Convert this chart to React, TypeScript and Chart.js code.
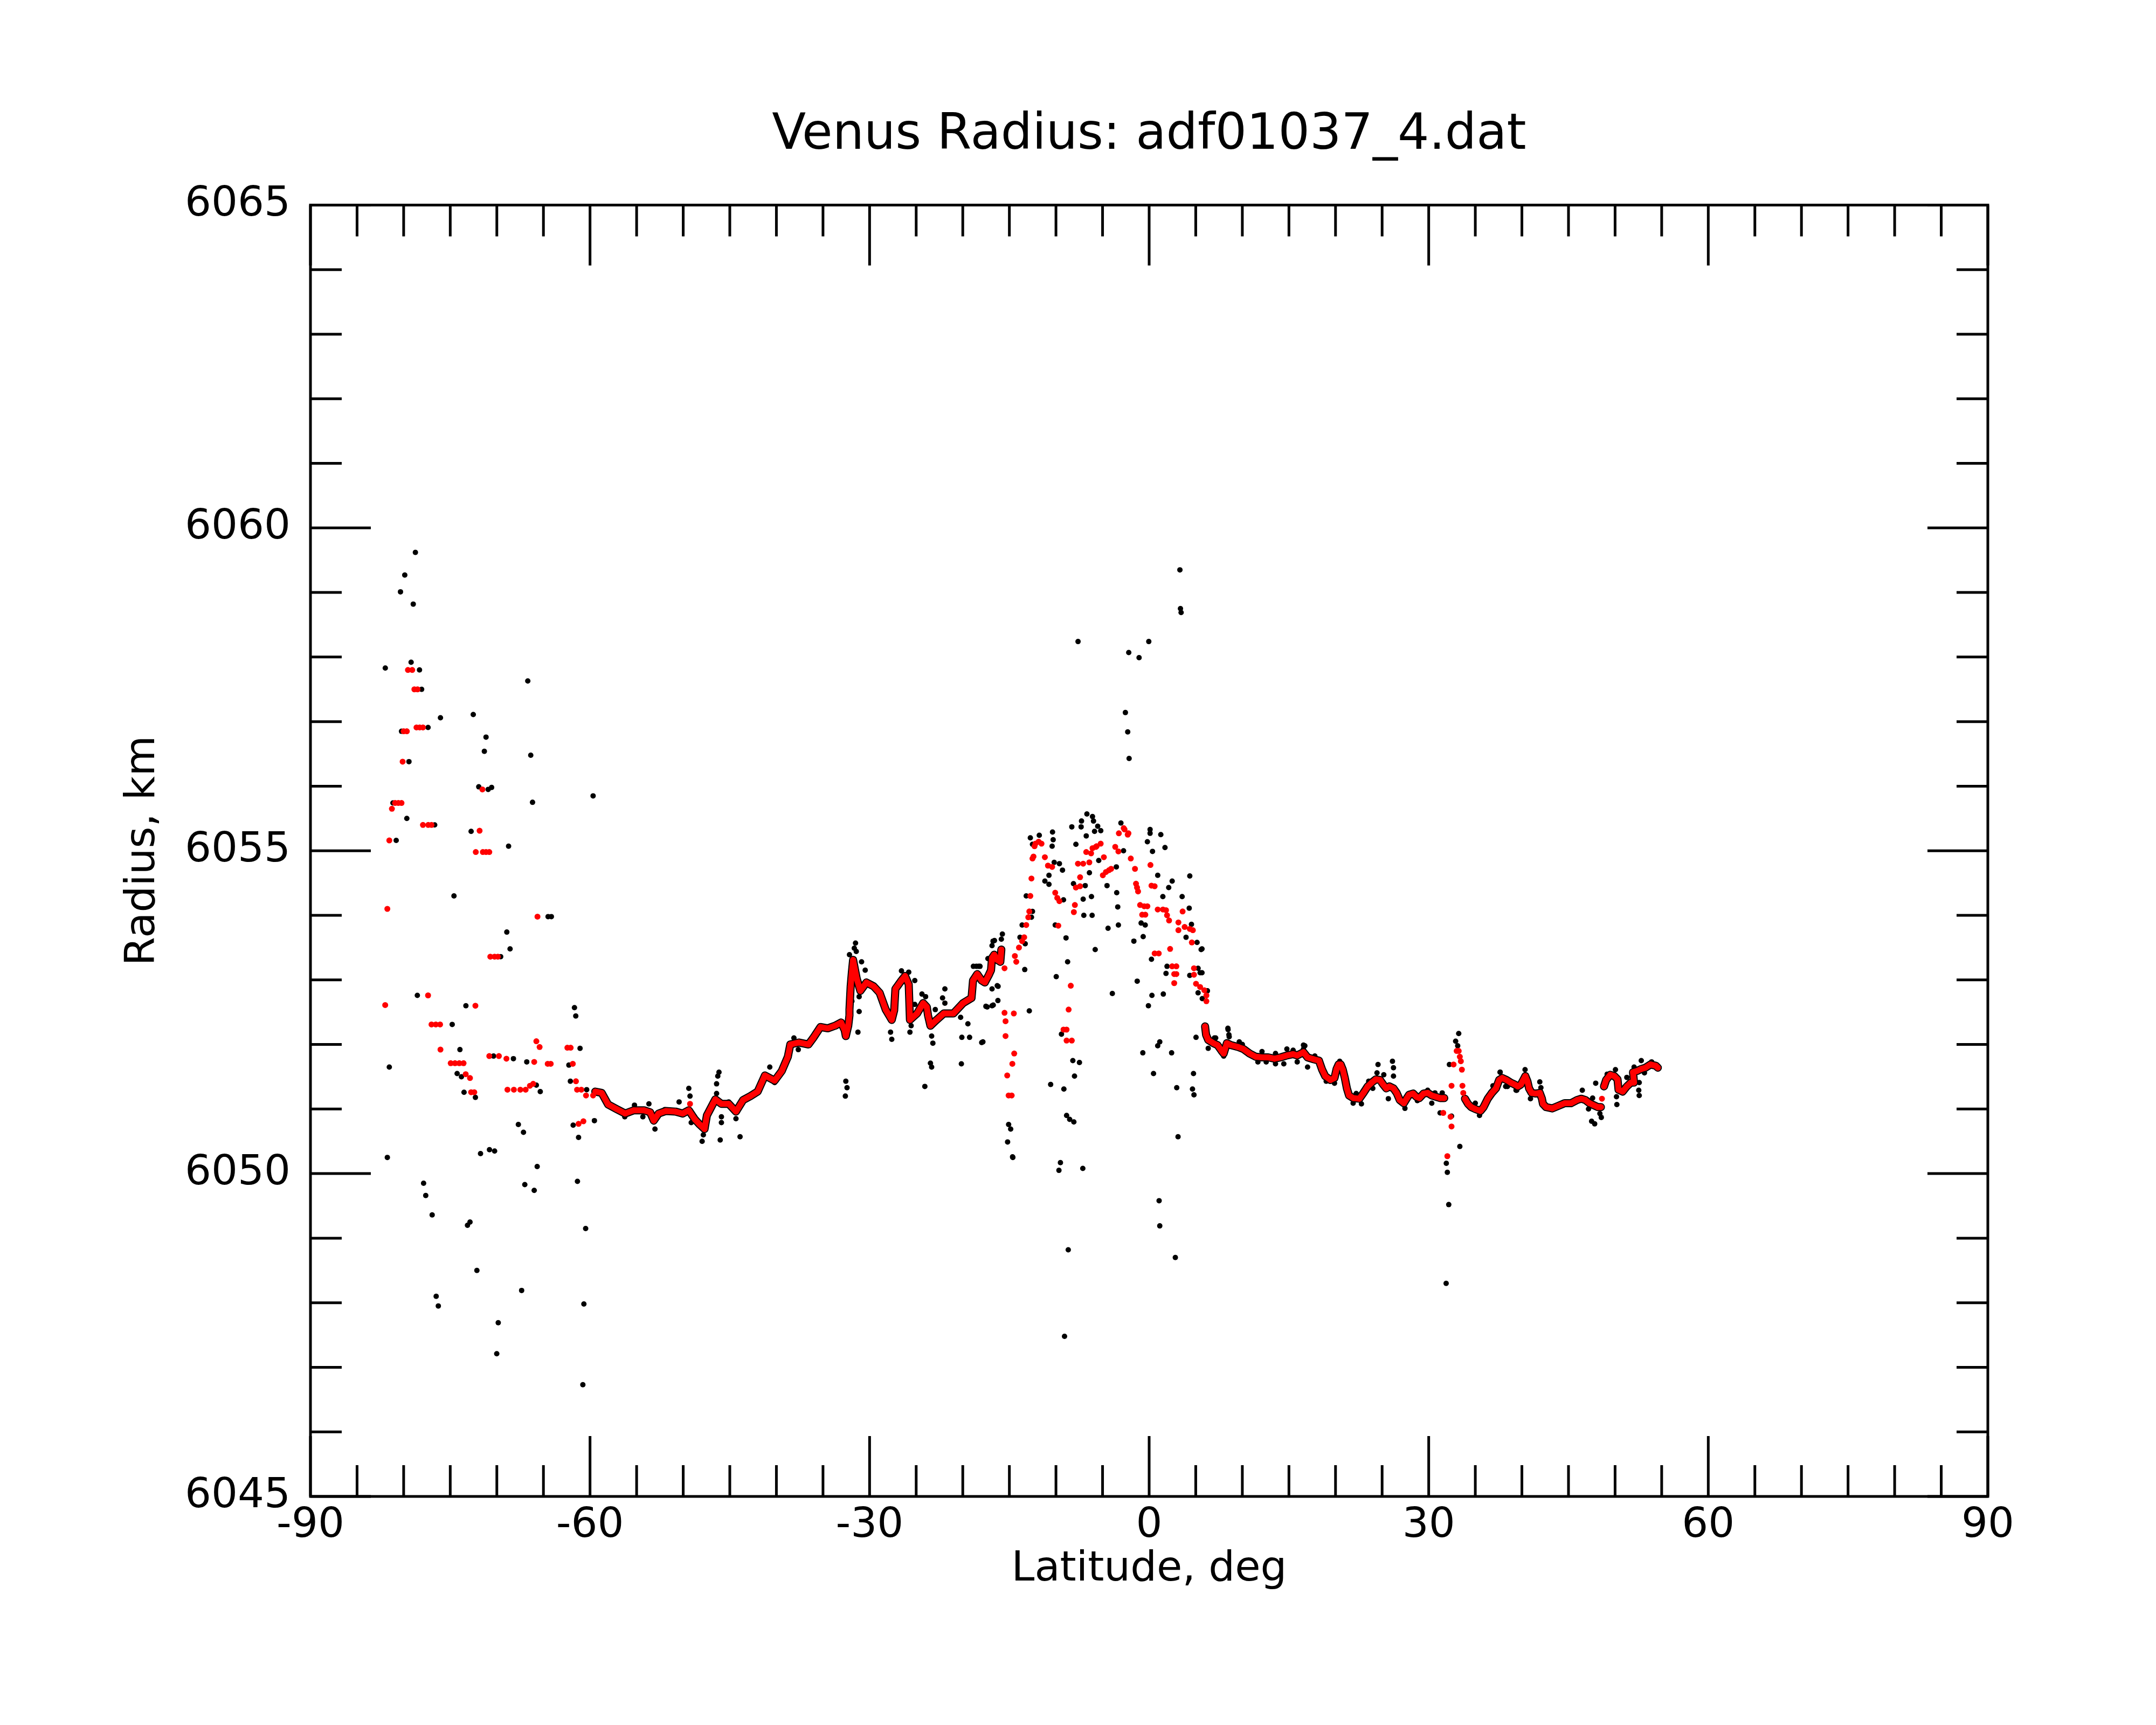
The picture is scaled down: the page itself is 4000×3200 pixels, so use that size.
import { useEffect, useRef } from "react";
import { Chart, registerables } from "chart.js";

Chart.register(...registerables);

type P = [number, number];

const TITLE = "Venus Radius: adf01037_4.dat";
const X_TITLE = "Latitude, deg";
const Y_TITLE = "Radius, km";

const X_TICKS = [-90, -85, -80, -75, -70, -65, -60, -55, -50, -45, -40, -35, -30, -25, -20, -15, -10, -5, 0, 5, 10, 15, 20, 25, 30, 35, 40, 45, 50, 55, 60, 65, 70, 75, 80, 85, 90];
const Y_TICKS = [6045, 6046, 6047, 6048, 6049, 6050, 6051, 6052, 6053, 6054, 6055, 6056, 6057, 6058, 6059, 6060, 6061, 6062, 6063, 6064, 6065];

// smoothed radius (red), continuous stretches
const redCurveA: P[] = [
  [-59.44, 6051.27], [-58.75, 6051.25], [-58.06, 6051.07], [-57.15, 6051.0], [-56.23, 6050.93], [-55.31, 6050.98],
  [-54.2, 6050.98], [-53.55, 6050.95], [-53.16, 6050.82], [-52.64, 6050.93], [-51.86, 6050.97], [-50.83, 6050.96],
  [-50.05, 6050.93], [-49.4, 6050.98], [-48.75, 6050.84], [-48.23, 6050.76], [-47.71, 6050.69], [-47.46, 6050.9],
  [-46.81, 6051.08], [-46.55, 6051.15], [-45.9, 6051.08], [-45.12, 6051.08], [-44.34, 6050.96], [-43.57, 6051.14],
  [-42.79, 6051.2], [-42.01, 6051.27], [-41.23, 6051.52], [-40.19, 6051.44], [-39.42, 6051.59], [-38.77, 6051.81],
  [-38.51, 6052.0], [-37.6, 6052.03], [-36.56, 6052.0], [-36.05, 6052.1], [-35.27, 6052.27], [-34.49, 6052.25],
  [-33.71, 6052.29], [-33.06, 6052.34], [-32.67, 6052.22], [-32.55, 6052.13], [-32.29, 6052.29], [-32.16, 6052.45],
  [-32.16, 6052.54], [-32.03, 6052.9], [-31.9, 6053.12], [-31.77, 6053.31], [-31.38, 6053.02], [-30.99, 6052.83],
  [-30.34, 6052.96], [-29.56, 6052.9], [-28.92, 6052.8], [-28.27, 6052.54], [-27.62, 6052.38], [-27.36, 6052.53],
  [-27.23, 6052.86], [-26.58, 6052.99], [-26.19, 6053.06], [-25.8, 6052.93], [-25.67, 6052.38], [-24.9, 6052.48],
  [-24.25, 6052.64], [-23.86, 6052.58], [-23.73, 6052.45], [-23.47, 6052.29], [-22.82, 6052.38], [-22.04, 6052.48],
  [-21.01, 6052.48], [-19.97, 6052.64], [-19.06, 6052.72], [-18.9, 6052.99], [-18.45, 6053.09], [-17.97, 6052.99],
  [-17.63, 6052.96], [-17.19, 6053.08], [-16.97, 6053.15], [-16.86, 6053.34], [-16.63, 6053.39], [-16.3, 6053.31],
  [-15.97, 6053.28], [-15.86, 6053.47],
];

const redCurveB: P[] = [
  [6.0, 6052.28], [6.11, 6052.15], [6.34, 6052.07], [6.89, 6052.02], [7.34, 6051.99], [7.78, 6051.9], [8.0, 6051.86],
  [8.34, 6052.02], [8.78, 6051.99], [9.56, 6051.96], [10.11, 6051.93], [10.78, 6051.86], [11.45, 6051.81],
  [12.11, 6051.8], [12.78, 6051.8], [13.45, 6051.78], [14.11, 6051.8], [14.78, 6051.83], [15.45, 6051.85],
  [15.89, 6051.83], [16.56, 6051.88], [17.0, 6051.8], [17.67, 6051.77], [18.22, 6051.75], [18.56, 6051.61],
  [18.89, 6051.51], [19.45, 6051.45], [19.89, 6051.48], [20.11, 6051.62], [20.33, 6051.69], [20.56, 6051.69],
  [20.78, 6051.61], [21.0, 6051.48], [21.22, 6051.32], [21.45, 6051.21], [21.89, 6051.17], [22.56, 6051.16],
  [23.0, 6051.25], [23.45, 6051.35], [23.89, 6051.41], [24.33, 6051.46], [24.78, 6051.45], [25.11, 6051.38],
  [25.45, 6051.32], [25.78, 6051.35], [26.22, 6051.32], [26.56, 6051.25], [26.89, 6051.14], [27.33, 6051.09],
  [27.67, 6051.17], [27.89, 6051.22], [28.33, 6051.24], [28.67, 6051.19], [29.0, 6051.17], [29.45, 6051.24],
  [29.89, 6051.25], [30.33, 6051.21], [30.78, 6051.19], [31.22, 6051.17], [31.67, 6051.17],
];

const redCurveC: P[] = [
  [33.89, 6051.16], [34.22, 6051.08], [34.56, 6051.03], [35.0, 6051.0], [35.56, 6050.97], [35.89, 6051.03],
  [36.34, 6051.16], [36.78, 6051.25], [37.22, 6051.32], [37.56, 6051.45], [37.89, 6051.48], [38.34, 6051.45],
  [38.78, 6051.41], [39.22, 6051.38], [39.56, 6051.35], [39.89, 6051.38], [40.15, 6051.45], [40.37, 6051.51],
  [40.59, 6051.43], [40.77, 6051.32], [41.04, 6051.25], [41.48, 6051.24], [41.92, 6051.25], [42.15, 6051.16],
  [42.26, 6051.08], [42.59, 6051.03], [43.26, 6051.01], [43.92, 6051.05], [44.59, 6051.09], [45.26, 6051.09],
  [45.92, 6051.14], [46.37, 6051.16], [46.81, 6051.14], [47.26, 6051.09], [47.7, 6051.06], [48.15, 6051.03],
  [48.48, 6051.03],
];

const redCurveD: P[] = [
  [48.81, 6051.35], [49.04, 6051.45], [49.48, 6051.53], [49.92, 6051.51], [50.26, 6051.46], [50.37, 6051.3],
  [50.81, 6051.27], [51.26, 6051.35], [51.7, 6051.41], [52.04, 6051.41], [51.92, 6051.57], [52.37, 6051.59],
  [52.81, 6051.62], [53.26, 6051.64], [53.81, 6051.69], [54.37, 6051.67], [54.59, 6051.64],
];

// smoothed radius (red), isolated points
const redSouth: P[] = [
  [-79.54, 6057.8], [-79.08, 6057.8], [-78.85, 6057.5], [-78.51, 6057.5], [-78.62, 6056.91], [-78.28, 6056.91],
  [-77.93, 6056.91], [-80.0, 6056.85], [-79.66, 6056.85], [-80.11, 6056.38], [-80.92, 6055.74], [-80.57, 6055.74],
  [-80.23, 6055.74], [-81.26, 6055.65], [-81.54, 6055.16], [-77.93, 6055.4], [-77.36, 6055.4], [-77.01, 6055.4],
  [-71.55, 6055.95], [-71.85, 6055.31], [-72.26, 6054.98], [-71.5, 6054.98], [-71.16, 6054.98], [-70.81, 6054.98],
  [-81.75, 6054.1], [-65.64, 6053.98], [-70.7, 6053.36], [-70.24, 6053.36], [-69.89, 6053.36], [-81.98, 6052.61],
  [-77.38, 6052.76], [-72.3, 6052.6], [-77.01, 6052.31], [-76.55, 6052.31], [-76.09, 6052.31], [-76.05, 6051.92],
  [-74.95, 6051.71], [-74.49, 6051.71], [-74.03, 6051.71], [-73.57, 6051.71], [-73.34, 6051.54], [-72.88, 6051.48],
  [-72.76, 6051.26], [-72.42, 6051.26], [-70.81, 6051.82], [-69.78, 6051.82], [-68.97, 6051.78], [-68.86, 6051.3],
  [-68.17, 6051.3], [-67.48, 6051.3], [-66.91, 6051.3], [-66.45, 6051.36], [-66.1, 6051.39], [-65.99, 6051.73],
  [-65.76, 6052.05], [-65.41, 6051.96], [-64.54, 6051.7], [-64.22, 6051.7], [-62.43, 6051.95], [-62.08, 6051.95],
  [-61.85, 6051.7], [-61.51, 6051.43], [-61.39, 6051.3], [-60.93, 6051.3], [-60.43, 6051.21], [-61.23, 6050.77],
  [-60.71, 6050.81], [-59.67, 6051.21], [-49.27, 6051.08],
];

const redEquator: P[] = [
  [-15.52, 6053.18], [-15.52, 6052.49], [-14.52, 6052.48], [-15.41, 6052.36], [-15.41, 6052.13], [-14.48, 6051.86],
  [-14.68, 6051.7], [-15.23, 6051.52], [-15.08, 6051.21], [-14.75, 6051.21], [-14.41, 6053.37], [-14.26, 6053.28],
  [-13.97, 6053.5], [-13.63, 6053.6], [-13.41, 6053.66], [-13.19, 6053.85], [-12.97, 6053.97], [-12.86, 6054.06],
  [-12.75, 6054.3], [-12.63, 6054.57], [-12.52, 6054.88], [-12.41, 6054.91], [-12.3, 6055.07], [-12.2, 6055.11],
  [-11.86, 6055.14], [-11.55, 6055.11], [-11.19, 6054.9], [-10.86, 6054.77], [-10.41, 6054.75], [-10.08, 6054.35],
  [-9.86, 6054.27], [-9.63, 6054.22], [-9.75, 6053.84], [-8.41, 6052.91], [-8.64, 6052.54], [-9.19, 6052.23],
  [-8.86, 6052.23], [-8.86, 6052.06], [-8.3, 6052.06], [-8.08, 6054.05], [-7.97, 6054.16], [-7.86, 6054.43],
  [-7.41, 6054.45], [-7.41, 6054.59], [-7.64, 6054.8], [-7.08, 6054.8], [-6.42, 6054.82], [-6.75, 6054.98],
  [-6.23, 6054.96], [-6.08, 6055.04], [-5.72, 6055.06], [-5.64, 6055.07], [-5.2, 6055.11], [-4.86, 6054.9],
  [-4.97, 6054.62], [-4.64, 6054.67], [-4.3, 6054.7], [-4.08, 6054.72], [-3.64, 6055.06], [-3.3, 6054.99],
  [-3.25, 6055.27], [-2.73, 6055.35], [-2.22, 6055.27], [-2.64, 6055.33], [-2.3, 6055.25], [-1.97, 6054.88],
  [-1.52, 6054.72], [-1.41, 6054.49], [-1.3, 6054.43], [-1.19, 6054.37], [-0.97, 6054.16], [-0.53, 6054.14],
  [-0.19, 6054.14], [-0.75, 6054.01], [-0.41, 6054.01], [0.14, 6054.78], [0.25, 6054.46], [0.59, 6054.45],
  [0.92, 6054.09], [1.48, 6054.09], [1.81, 6054.08], [1.92, 6054.0], [2.14, 6053.92], [3.59, 6054.06],
  [3.14, 6053.89], [3.81, 6053.82], [4.36, 6053.79], [4.69, 6053.77], [3.14, 6053.77], [4.58, 6053.58],
  [2.25, 6053.48], [0.59, 6053.41], [1.03, 6053.41], [2.47, 6053.21], [2.92, 6053.21], [2.69, 6053.09],
  [2.92, 6053.09], [2.69, 6052.95], [4.81, 6053.18], [4.81, 6053.08], [5.03, 6052.94], [5.47, 6052.89],
  [5.92, 6052.84], [6.14, 6052.76], [6.14, 6052.67],
];

const redNorth: P[] = [
  [31.56, 6050.94], [32.34, 6050.88], [32.45, 6050.73], [32.0, 6050.27], [32.45, 6051.36], [32.67, 6051.69],
  [33.0, 6051.9], [33.22, 6051.9], [33.34, 6051.81], [33.45, 6051.74], [33.56, 6051.61], [33.62, 6051.36],
  [33.71, 6051.25], [48.59, 6051.16],
];

// raw radius (black) points
const blackSouth: P[] = [
  [-78.74, 6059.62], [-79.88, 6059.27], [-80.34, 6059.01], [-78.97, 6058.82], [-81.97, 6057.83], [-79.2, 6057.92],
  [-78.3, 6057.8], [-78.07, 6057.5], [-77.38, 6056.91], [-80.23, 6056.85], [-79.43, 6056.38], [-79.66, 6055.5],
  [-80.8, 6055.16], [-81.15, 6055.74], [-76.67, 6055.4], [-76.05, 6057.06], [-72.53, 6057.11], [-71.16, 6056.76],
  [-71.34, 6056.54], [-71.94, 6055.99], [-70.93, 6055.95], [-70.56, 6055.98], [-72.76, 6055.3], [-68.74, 6055.07],
  [-66.68, 6057.63], [-66.36, 6056.48], [-66.17, 6055.75], [-59.67, 6055.85], [-74.6, 6054.3], [-68.93, 6053.74],
  [-68.58, 6053.48], [-69.59, 6053.36], [-64.5, 6053.98], [-64.15, 6053.98], [-78.53, 6052.76], [-73.32, 6052.6],
  [-74.79, 6052.31], [-73.96, 6051.92], [-74.26, 6051.55], [-73.8, 6051.5], [-73.52, 6051.26], [-72.3, 6051.18],
  [-81.54, 6051.65], [-70.35, 6051.82], [-68.22, 6051.78], [-66.79, 6051.73], [-65.76, 6051.37], [-65.34, 6051.27],
  [-61.67, 6052.57], [-61.53, 6052.44], [-61.07, 6051.94], [-62.27, 6051.68], [-62.11, 6051.43], [-60.36, 6051.3],
  [-59.53, 6050.82], [-61.81, 6050.75], [-61.23, 6050.56], [-67.69, 6050.76], [-67.14, 6050.64], [-81.75, 6050.25],
  [-71.75, 6050.31], [-70.79, 6050.37], [-70.24, 6050.35], [-65.67, 6050.11], [-61.35, 6049.88], [-67.0, 6049.83],
  [-65.99, 6049.74], [-77.86, 6049.85], [-77.63, 6049.66], [-76.94, 6049.36], [-73.15, 6049.2], [-72.88, 6049.25],
  [-60.47, 6049.15], [-72.14, 6048.5], [-67.34, 6048.19], [-76.51, 6048.1], [-76.28, 6047.95], [-60.66, 6047.98],
  [-69.85, 6047.69], [-70.01, 6047.21], [-60.77, 6046.73],
];

const blackMid: P[] = [
  [-56.27, 6050.88], [-53.03, 6050.69], [-54.33, 6050.88], [-49.4, 6051.32], [-49.27, 6051.2], [-49.14, 6050.79],
  [-47.97, 6050.5], [-47.84, 6050.6], [-46.42, 6051.24], [-46.42, 6051.39], [-46.29, 6051.51], [-46.16, 6051.57],
  [-46.03, 6050.52], [-45.9, 6050.88], [-45.9, 6050.79], [-44.34, 6050.85], [-43.9, 6050.57], [-45.12, 6051.11],
  [-50.44, 6051.11], [-53.68, 6051.08], [-40.71, 6051.65], [-40.19, 6051.41], [-38.12, 6052.1], [-37.65, 6051.92],
  [-55.23, 6051.06], [-51.99, 6050.99], [-31.51, 6053.57], [-31.64, 6053.49], [-31.43, 6053.44], [-32.16, 6053.39],
  [-30.86, 6053.28], [-30.47, 6053.15], [-31.9, 6052.67], [-31.12, 6052.74], [-31.12, 6052.51], [-31.25, 6052.19],
  [-32.55, 6051.43], [-32.42, 6051.33], [-32.6, 6051.2], [-27.75, 6052.19], [-27.62, 6052.08], [-26.58, 6053.14],
  [-25.8, 6053.12], [-25.15, 6052.99], [-25.54, 6052.29], [-25.67, 6052.19], [-24.38, 6052.78], [-23.99, 6052.74],
  [-25.15, 6052.62], [-23.34, 6052.13], [-23.21, 6052.02], [-23.47, 6051.71], [-23.34, 6051.65], [-24.07, 6051.35],
  [-22.95, 6052.54], [-21.92, 6052.86], [-22.17, 6052.72], [-21.92, 6052.64], [-20.23, 6052.42], [-19.45, 6052.32],
  [-20.1, 6052.11], [-19.27, 6052.11], [-20.15, 6051.7], [-17.84, 6052.04], [-18.54, 6053.21], [-18.15, 6053.21],
  [-17.38, 6052.58], [-16.73, 6052.61], [-16.6, 6053.61], [-16.86, 6053.53], [-17.12, 6053.33], [-16.21, 6052.9],
];

const blackEquator: P[] = [
  [-18.86, 6053.21], [-18.3, 6053.21], [-16.75, 6053.6], [-15.86, 6053.63], [-15.75, 6053.71], [-17.3, 6053.33],
  [-16.86, 6052.86], [-16.3, 6052.91], [-17.52, 6052.59], [-16.86, 6052.6], [-16.23, 6052.68], [-17.97, 6052.03],
  [-13.35, 6053.16], [-12.86, 6052.52], [-13.63, 6053.85], [-13.3, 6053.56], [-13.86, 6053.66], [-13.19, 6054.3],
  [-12.52, 6054.06], [-12.63, 6053.97], [-12.52, 6055.1], [-12.75, 6055.2], [-11.19, 6054.53], [-10.75, 6054.48],
  [-10.75, 6054.62], [-10.19, 6054.82], [-9.63, 6054.8], [-9.3, 6054.7], [-10.41, 6055.07], [-10.3, 6055.17],
  [-9.19, 6054.24], [-10.08, 6053.85], [-8.92, 6053.65], [-8.75, 6053.28], [-9.97, 6053.05], [-9.41, 6052.16],
  [-8.19, 6051.75], [-7.48, 6051.72], [-8.01, 6051.51], [-10.57, 6051.38], [-9.15, 6051.31], [-8.86, 6050.9],
  [-8.53, 6050.84], [-8.08, 6050.8], [-15.08, 6050.76], [-14.86, 6050.69], [-15.19, 6050.49], [-14.63, 6050.25],
  [-7.01, 6054.0], [-6.12, 6054.0], [-7.08, 6054.25], [-6.19, 6054.29], [-7.86, 6055.1], [-6.75, 6055.23],
  [-5.41, 6054.85], [-6.41, 6054.66], [-6.86, 6054.46], [-8.12, 6054.49], [-5.79, 6053.47], [-4.41, 6053.8],
  [-3.3, 6053.85], [-3.37, 6054.13], [-3.48, 6054.35], [-3.52, 6054.75], [-4.52, 6054.46], [-3.95, 6052.79],
  [-2.75, 6055.0], [-1.64, 6053.6], [-1.28, 6052.98], [-0.64, 6053.67], [-0.86, 6053.88], [-0.42, 6053.85],
  [-0.19, 6055.14], [0.36, 6054.99], [0.92, 6054.62], [1.47, 6054.29], [2.1, 6054.43], [2.47, 6054.53],
  [1.7, 6055.05], [4.36, 6054.61], [3.54, 6054.29], [4.3, 6054.11], [4.54, 6053.86], [3.96, 6053.66],
  [5.14, 6053.58], [5.58, 6053.47], [0.25, 6053.32], [0.3, 6052.76], [1.52, 6052.78], [-0.08, 6052.6],
  [1.92, 6053.21], [1.81, 6053.1], [5.25, 6053.18], [5.47, 6053.11], [4.36, 6053.07], [5.25, 6052.8],
  [5.7, 6052.71], [6.25, 6052.83], [8.47, 6052.23], [8.59, 6052.12], [7.14, 6052.1], [5.03, 6052.11],
  [1.14, 6052.04], [0.92, 6051.98], [-0.68, 6051.87], [2.41, 6051.87], [0.47, 6051.55], [4.76, 6051.55],
  [2.96, 6051.33], [4.65, 6051.31], [4.81, 6051.22], [3.1, 6050.57], [-14.66, 6050.26], [-9.52, 6050.17],
  [-9.68, 6050.05], [-7.12, 6050.08], [-8.68, 6048.82], [-9.08, 6047.48], [1.07, 6049.58], [1.14, 6049.19],
  [2.81, 6048.7], [3.3, 6059.35], [3.36, 6058.75], [3.43, 6058.69], [-7.63, 6058.24], [-0.04, 6058.24],
  [-2.19, 6058.07], [-1.08, 6057.99], [-2.55, 6057.14], [-2.3, 6056.84], [-2.15, 6056.43], [-6.68, 6055.57],
  [-6.08, 6055.53], [-5.97, 6055.46], [-7.26, 6055.46], [-7.3, 6055.37], [-8.3, 6055.37], [-10.37, 6055.29],
  [-11.79, 6055.24], [-5.52, 6055.38], [-5.86, 6055.3], [-5.19, 6055.31], [-3.03, 6055.43], [0.1, 6055.33],
  [0.1, 6055.27], [1.25, 6055.25],
];

const blackNorth: P[] = [
  [16.71, 6051.98], [20.47, 6051.71], [5.67, 6053.48], [5.67, 6053.11], [6.23, 6052.83], [6.34, 6051.94],
  [7.0, 6052.1], [8.0, 6051.82], [8.45, 6052.25], [8.56, 6052.15], [9.67, 6052.04], [10.0, 6052.0],
  [12.11, 6051.89], [11.67, 6051.73], [12.56, 6051.73], [13.56, 6051.86], [13.56, 6051.7], [14.45, 6051.7],
  [14.78, 6051.93], [15.45, 6051.91], [16.56, 6051.99], [16.56, 6051.93], [15.89, 6051.73], [17.0, 6051.65],
  [17.78, 6051.82], [19.89, 6051.4], [20.45, 6051.74], [19.0, 6051.43], [21.89, 6051.09], [22.78, 6051.08],
  [22.22, 6051.24], [23.56, 6051.43], [24.0, 6051.32], [24.56, 6051.69], [24.45, 6051.56], [25.18, 6051.53],
  [26.11, 6051.74], [26.22, 6051.64], [26.22, 6051.51], [25.67, 6051.16], [27.45, 6051.01], [28.78, 6051.13],
  [29.89, 6051.29], [30.33, 6051.09], [30.67, 6051.25], [31.45, 6051.25], [31.22, 6050.94], [31.89, 6050.16],
  [32.0, 6050.02], [32.15, 6049.52], [33.34, 6050.42], [33.22, 6052.17], [32.89, 6052.05], [33.11, 6051.98],
  [32.22, 6051.69], [32.45, 6050.89], [34.11, 6051.13], [35.0, 6051.09], [35.45, 6050.9], [36.89, 6051.36],
  [37.67, 6051.57], [38.45, 6051.35], [39.45, 6051.29], [40.34, 6051.61], [31.87, 6048.3], [47.92, 6051.4],
  [46.48, 6051.29], [47.59, 6051.17], [47.15, 6051.0], [47.48, 6050.81], [47.81, 6050.77], [48.52, 6050.87],
  [48.37, 6050.93], [50.15, 6051.19], [50.19, 6051.07], [50.04, 6051.61], [49.15, 6051.54], [51.26, 6051.49],
  [52.59, 6051.41], [52.54, 6051.29], [52.59, 6051.21], [52.04, 6051.65], [52.81, 6051.75], [53.92, 6051.73],
  [53.15, 6051.56], [41.92, 6051.42], [42.04, 6051.33], [40.92, 6051.16], [37.66, 6051.57], [38.26, 6051.35],
  [39.37, 6051.29],
];

const RED = "#ff0000";
const BLACK = "#000000";

const frameTicks = {
  id: "frameTicks",
  afterDraw(chart: any) {
    const { ctx, chartArea } = chart;
    const { left, right, top, bottom } = chartArea;
    const xs = chart.scales.x;
    const ys = chart.scales.y;
    ctx.save();
    ctx.strokeStyle = BLACK;
    ctx.lineWidth = 5;
    ctx.lineCap = "butt";
    ctx.beginPath();
    for (const v of X_TICKS) {
      const px = xs.getPixelForValue(v);
      const len = v % 30 === 0 ? 112 : 58;
      ctx.moveTo(px, bottom);
      ctx.lineTo(px, bottom - len);
      ctx.moveTo(px, top);
      ctx.lineTo(px, top + len);
    }
    for (const v of Y_TICKS) {
      const py = ys.getPixelForValue(v);
      const len = v % 5 === 0 ? 112 : 58;
      ctx.moveTo(left, py);
      ctx.lineTo(left + len, py);
      ctx.moveTo(right, py);
      ctx.lineTo(right - len, py);
    }
    ctx.stroke();
    ctx.lineJoin = "miter";
    ctx.strokeRect(left, top, right - left, bottom - top);
    ctx.restore();
  },
};

const toXY = (a: P[]) => a.map(([x, y]) => ({ x, y }));

export default function App() {
  const ref = useRef<HTMLCanvasElement>(null);

  useEffect(() => {
    document.body.style.margin = "0";
    Chart.defaults.font.family = "'DejaVu Sans'";
    const curves = [redCurveA, redCurveB, redCurveC, redCurveD];
    const datasets: any[] = [];
    curves.forEach((c, i) => {
      datasets.push({
        label: "smooth " + i,
        data: toXY(c),
        showLine: true,
        borderColor: RED,
        borderWidth: 11,
        borderCapStyle: "round",
        borderJoinStyle: "round",
        pointRadius: 5.5,
        pointBorderWidth: 0,
        pointBackgroundColor: RED,
        order: 0,
      });
    });
    datasets.push({
      label: "smooth points",
      data: toXY([...redSouth, ...redEquator, ...redNorth]),
      showLine: false,
      pointRadius: 5.5,
      pointBorderWidth: 0,
      pointBackgroundColor: RED,
      order: 0,
    });
    datasets.push({
      label: "raw points",
      data: toXY([...blackSouth, ...blackMid, ...blackEquator, ...blackNorth]),
      showLine: false,
      pointRadius: 5,
      pointBorderWidth: 0,
      pointBackgroundColor: BLACK,
      order: 1,
    });
    curves.forEach((c, i) => {
      datasets.push({
        label: "raw band " + i,
        data: toXY(c),
        showLine: true,
        borderColor: BLACK,
        borderWidth: 15,
        borderCapStyle: "round",
        borderJoinStyle: "round",
        pointRadius: 0,
        order: 2,
      });
    });

    const chart = new Chart(ref.current!, {
      type: "scatter",
      data: { datasets },
      plugins: [frameTicks],
      options: {
        responsive: false,
        devicePixelRatio: 1,
        animation: false,
        layout: { padding: { left: 0, top: 0, right: 312, bottom: 0 } },
        plugins: {
          legend: { display: false },
          tooltip: { enabled: false },
          title: {
            display: true,
            fullSize: false,
            text: TITLE,
            color: BLACK,
            font: { size: 92, weight: "normal" },
            padding: { top: 197, bottom: 73 },
          },
        },
        scales: {
          x: {
            type: "linear",
            position: "bottom",
            min: -90,
            max: 90,
            grid: { display: false, drawTicks: false },
            border: { display: false },
            ticks: {
              stepSize: 30,
              autoSkip: false,
              maxRotation: 0,
              color: BLACK,
              font: { size: 77 },
              padding: 9,
              callback: (v: any) => String(v),
            },
            title: {
              display: true,
              text: X_TITLE,
              color: BLACK,
              font: { size: 77 },
              padding: { top: 0, bottom: 242 },
            },
            afterFit: (s: any) => {
              s.height = 424;
            },
          },
          y: {
            type: "linear",
            position: "left",
            min: 6045,
            max: 6065,
            grid: { display: false, drawTicks: false },
            border: { display: false },
            ticks: {
              stepSize: 5,
              color: BLACK,
              font: { size: 77 },
              padding: 37,
              callback: (v: any) => String(v),
            },
            title: {
              display: true,
              text: Y_TITLE,
              color: BLACK,
              font: { size: 77 },
              padding: { top: 220, bottom: 0 },
            },
            afterFit: (s: any) => {
              s.width = 576;
            },
          },
        },
      } as any,
    });
    return () => chart.destroy();
  }, []);

  return (
    <div style={{ width: 4000, height: 3200, background: "#ffffff" }}>
      <canvas ref={ref} width={4000} height={3200} style={{ display: "block", width: 4000, height: 3200 }} />
    </div>
  );
}
